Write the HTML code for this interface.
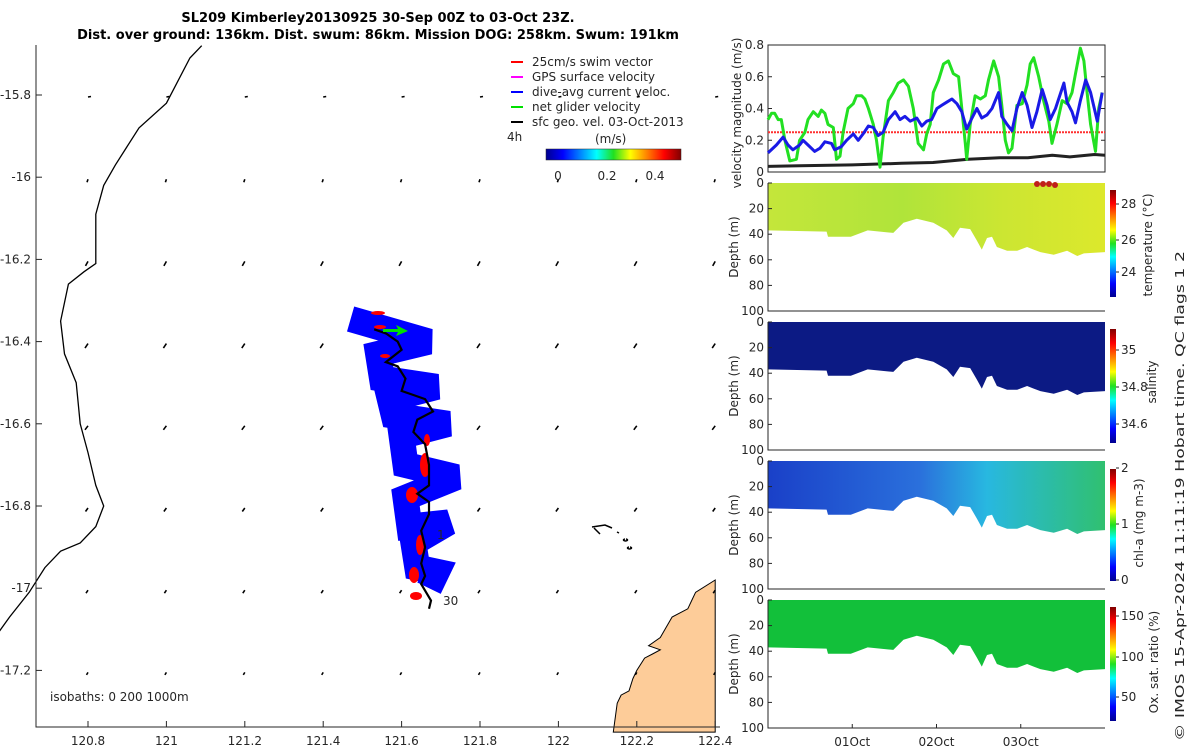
<!DOCTYPE html>
<html><head><meta charset="utf-8">
<style>
body{margin:0;background:#fff;}
svg{display:block;font-family:"DejaVu Sans","Liberation Sans",sans-serif;}
.t{font-size:12px;fill:#262626;}
</style></head>
<body>
<svg id="s" width="1200" height="750" viewBox="0 0 1200 750" xmlns="http://www.w3.org/2000/svg">
<defs>
<linearGradient id="jet" x1="0" y1="1" x2="0" y2="0">
<stop offset="0" stop-color="#00008f"/><stop offset="0.125" stop-color="#0000ff"/><stop offset="0.375" stop-color="#00ffff"/><stop offset="0.5" stop-color="#20e020"/><stop offset="0.625" stop-color="#ffff00"/><stop offset="0.875" stop-color="#ff0000"/><stop offset="1" stop-color="#800000"/>
</linearGradient>
<linearGradient id="jeth" x1="0" y1="0" x2="1" y2="0">
<stop offset="0" stop-color="#00008f"/><stop offset="0.125" stop-color="#0000ff"/><stop offset="0.375" stop-color="#00ffff"/><stop offset="0.5" stop-color="#20e020"/><stop offset="0.625" stop-color="#ffff00"/><stop offset="0.875" stop-color="#ff0000"/><stop offset="1" stop-color="#800000"/>
</linearGradient>
<linearGradient id="gT" x1="0" x2="1"><stop offset="0" stop-color="#c4e63a"/><stop offset="0.4" stop-color="#b0e43a"/><stop offset="0.7" stop-color="#cce632"/><stop offset="1" stop-color="#dce82c"/></linearGradient>
<linearGradient id="gC" x1="0" x2="1"><stop offset="0" stop-color="#1a40c8"/><stop offset="0.45" stop-color="#2a70dc"/><stop offset="0.65" stop-color="#28b8e0"/><stop offset="1" stop-color="#30c070"/></linearGradient>
</defs>

<g font-weight="bold" font-size="13" fill="#000" text-anchor="middle">
<text x="378" y="22">SL209 Kimberley20130925 30-Sep 00Z to 03-Oct 23Z.</text>
<text x="378" y="39">Dist. over ground: 136km. Dist. swum: 86km. Mission DOG: 258km. Swum: 191km</text>
</g>

<g id="map"></g>
<g id="right"></g>

<text class="t" font-size="14" textLength="490" lengthAdjust="spacingAndGlyphs" transform="translate(1184,496) rotate(-90)" text-anchor="middle">© IMOS 15-Apr-2024 11:11:19 Hobart time. QC flags 1  2</text>
</svg>
<script>
const NS="http://www.w3.org/2000/svg";
function mk(p,tag,at){const e=document.createElementNS(NS,tag);for(const k in at)e.setAttribute(k,at[k]);p.appendChild(e);return e;}
function tx(p,x,y,s,at){const e=mk(p,'text',Object.assign({x:x,y:y,class:'t'},at||{}));e.textContent=s;return e;}

// ---------- data ----------
const lonTicks=[120.8,121,121.2,121.4,121.6,121.8,122,122.2,122.4];
const latTicks=[-15.8,-16,-16.2,-16.4,-16.6,-16.8,-17,-17.2];
const velTicks=[0,0.2,0.4,0.6,0.8];
const depthTicks=[0,20,40,60,80,100];
const dateTicks=[24,48,72];
const dateLabels=['01Oct','02Oct','03Oct'];
const greenT=[0,1,1.9,2.9,3.8,4.8,6.2,8.1,9,10.5,11.4,12.9,14.3,15.2,16.2,17.1,18.6,19.5,20.5,21.4,22.8,24.3,25.2,26.7,27.6,28.6,30,30.9,31.9,32.8,34.3,35.7,37.1,38.6,40,41.4,42.8,44.3,45.2,46.2,47.1,48.6,50,51.4,52.8,54.3,55.2,56.2,56.6,57.6,59,60.5,61.9,62.8,64.3,65.7,66.6,67.6,68.5,69.5,70.9,72.4,73.8,74.7,75.7,77.1,78.5,80,80.9,82.3,83.8,85.2,86.6,87.6,89,90,90.9,91.9,93.3,94.2,95.2];
const greenV=[0.33,0.37,0.37,0.33,0.33,0.2,0.07,0.08,0.2,0.25,0.33,0.38,0.35,0.39,0.37,0.3,0.28,0.08,0.1,0.25,0.4,0.43,0.48,0.48,0.46,0.4,0.3,0.2,0.03,0.22,0.45,0.5,0.56,0.58,0.54,0.4,0.18,0.14,0.24,0.3,0.5,0.58,0.68,0.7,0.62,0.6,0.4,0.18,0.08,0.3,0.48,0.46,0.48,0.58,0.7,0.6,0.42,0.2,0.12,0.15,0.42,0.43,0.55,0.68,0.72,0.6,0.45,0.32,0.18,0.3,0.45,0.43,0.5,0.62,0.78,0.7,0.5,0.3,0.13,0.4,0.5];
const blueT=[0,2.4,4.3,5.7,7.1,9,10,11.4,13.3,14.8,16.2,18.1,19,20.9,22.4,24.3,25.7,27.1,28.6,30,31.4,32.8,34.3,36.2,37.6,39,40.5,42.4,43.8,45.2,46.6,48.1,49.5,50.9,52.4,53.8,55.2,56.6,58.1,59.5,60.9,62.4,63.8,65.7,66.6,68.1,69.5,70.9,72.4,73.8,75.2,76.6,78.1,79.5,80.4,81.9,84.3,85.2,86.6,87.6,89,90.5,91.9,93.8,95.2];
const blueV=[0.12,0.17,0.22,0.17,0.14,0.17,0.2,0.17,0.13,0.15,0.19,0.18,0.14,0.16,0.2,0.24,0.2,0.24,0.29,0.28,0.23,0.25,0.33,0.38,0.33,0.35,0.32,0.34,0.29,0.32,0.33,0.4,0.42,0.44,0.46,0.43,0.38,0.27,0.34,0.4,0.34,0.36,0.4,0.5,0.35,0.3,0.26,0.4,0.5,0.42,0.28,0.38,0.52,0.42,0.33,0.4,0.56,0.44,0.38,0.31,0.45,0.58,0.5,0.32,0.5];
const blackT=[0,9,24,38,47,57,66,74,81,86,93,96];
const blackV=[0.035,0.04,0.045,0.055,0.06,0.08,0.09,0.09,0.105,0.095,0.11,0.105];
const swimV=0.25;
const bottomT=[0,16.7,17.1,23.6,28.4,35.7,38.6,42.4,47.1,50.9,52.8,54.7,57.6,59.5,60.9,62.4,63.8,65.2,68.1,71,73.8,75.7,77.6,81.4,85.2,88.1,90,96];
const bottomD=[37,38,42,42,37,39,31,28,31,37,43,35,36,45,52,43,42,50,53,53,50,52,54,56,53,57,55,54];
const coastLon=[121.09,121.06,121.0,120.93,120.87,120.84,120.82,120.82,120.79,120.75,120.73,120.74,120.77,120.78,120.8,120.82,120.84,120.82,120.78,120.73,120.69,120.65,120.6,120.57];
const coastLat=[-15.68,-15.71,-15.82,-15.88,-15.97,-16.02,-16.09,-16.21,-16.23,-16.26,-16.35,-16.43,-16.5,-16.6,-16.67,-16.75,-16.8,-16.85,-16.89,-16.91,-16.95,-17.01,-17.07,-17.11];
const landLon=[122.4,122.35,122.34,122.33,122.29,122.26,122.23,122.26,122.24,122.22,122.2,122.19,122.18,122.16,122.15,122.14,122.14,122.4];
const landLat=[-16.98,-17.01,-17.03,-17.05,-17.07,-17.12,-17.14,-17.15,-17.16,-17.17,-17.2,-17.22,-17.25,-17.26,-17.28,-17.35,-17.35,-17.35];
const bandLon=[121.47,121.67,121.54,121.55,121.69,121.57,121.58,121.72,121.6,121.61,121.74,121.61,121.62,121.72,121.63,121.64,121.69,121.67];
const bandLat=[-16.345,-16.4,-16.43,-16.49,-16.51,-16.54,-16.58,-16.6,-16.63,-16.7,-16.73,-16.78,-16.85,-16.84,-16.89,-16.95,-16.96,-17.0];
const trackLon=[121.53,121.56,121.59,121.6,121.56,121.59,121.61,121.6,121.63,121.66,121.68,121.64,121.63,121.66,121.67,121.67,121.64,121.67,121.67,121.65,121.66,121.65,121.66,121.65,121.675,121.67];
const trackLat=[-16.37,-16.38,-16.4,-16.42,-16.45,-16.46,-16.49,-16.52,-16.53,-16.54,-16.57,-16.59,-16.62,-16.65,-16.7,-16.75,-16.77,-16.79,-16.82,-16.86,-16.9,-16.94,-16.97,-16.99,-17.03,-17.05];
const arrowU=[0.6,-0.2,-0.5,-0.6,-0.6,-0.5,-0.4,-0.3];
const arrowV=[0.1,-0.6,-0.9,-0.9,-0.8,-0.7,-0.6,-0.5];

// ---------- map ----------
const M=document.getElementById('map');
const mx=l=>88+(l-120.8)/0.2*78.4;
const my=l=>95+(-15.8-l)/0.2*82.2;
function ptsLL(lo,la){return lo.map((v,i)=>mx(v).toFixed(1)+','+my(la[i]).toFixed(1)).join(' ');}
const land=mk(M,'polygon',{points:ptsLL(landLon,landLat),fill:'#fdcc99',stroke:'#000','stroke-width':1});

const coast=mk(M,'polyline',{points:ptsLL(coastLon,coastLat),fill:'none',stroke:'#000','stroke-width':1.3});

const isl=mk(M,'path',{d:'M592 527 L605 525 L612 528 M594 528 L600 534 M617 532 l2 1 M625 539 a2 1 0 1 0 1 0 M629 547 a2 1 0 1 0 1 0',fill:'none',stroke:'#000','stroke-width':1.5});

latTicks.forEach((la,j)=>lonTicks.forEach((lo,i)=>{
 const x=mx(lo),y=my(la)+2,u=arrowU[j],v=arrowV[j];
 const a=mk(M,'line',{x1:x,y1:y,x2:x+u*5,y2:y-v*5,stroke:'#000','stroke-width':1.6});
 
}));
const band=mk(M,'polyline',{points:ptsLL(bandLon,bandLat),fill:'none',stroke:'#0000ff','stroke-width':26,'stroke-linejoin':'miter','stroke-miterlimit':2.5});

const reds=[[378,313,7,2],[380,327,6,2],[385,356,5,2],[425,465,5,12],[427,440,3,6],[412,495,6,8],[420,545,4,10],[414,575,5,8],[416,596,6,4]];
reds.forEach(r=>{const e=mk(M,'ellipse',{cx:r[0],cy:r[1],rx:r[2],ry:r[3],fill:'#ff0000'});
});
const trk=mk(M,'polyline',{points:ptsLL(trackLon,trackLat),fill:'none',stroke:'#000','stroke-width':2.2});

const ga=mk(M,'path',{d:'M383 329 L398 329 L396 325 L408 331 L396 336 L398 332 L383 332Z',fill:'#00e000'});

tx(M,437,539,'1',{'font-size':13});
tx(M,443,605,'30',{'font-size':13});
const ax=mk(M,'path',{d:'M36 45 L36 727 L720 727',fill:'none',stroke:'#262626','stroke-width':1});

latTicks.forEach(la=>{const y=my(la);mk(M,'line',{x1:36,y1:y,x2:42,y2:y,stroke:'#262626'});
 const t=tx(M,31,y+4,String(la),{'text-anchor':'end'});});
lonTicks.forEach(lo=>{const x=mx(lo);mk(M,'line',{x1:x,y1:727,x2:x,y2:721,stroke:'#262626'});
 const t=tx(M,x,745,String(lo),{'text-anchor':'middle'});});
tx(M,50,701,'isobaths: 0   200   1000m',{'xml:space':'preserve'});
const L=mk(M,'g',{});
const legC=['#ff0000','#ff00ff','#0000ff','#00e000','#000'];
const legT=['25cm/s swim vector','GPS surface velocity','dive-avg current veloc.','net glider velocity','sfc geo. vel. 03-Oct-2013'];
legT.forEach((s,i)=>{const y=66+i*15;
 const ln=mk(L,'line',{x1:511,y1:y-4,x2:523,y2:y-4,stroke:legC[i],'stroke-width':2});
 
 const t=tx(L,532,y,s);});
tx(L,507,141,'4h');
tx(L,595,143,'(m/s)',{'font-size':14});
const cb=mk(L,'rect',{x:546,y:149,width:135,height:11,fill:'url(#jeth)',stroke:'#262626','stroke-width':0.5});

[['0',558],['0.2',607],['0.4',655]].forEach(a=>tx(L,a[1],180,a[0],{'text-anchor':'middle'}));

// ---------- right panels ----------
const R=document.getElementById('right');
const X0=768,X1=1105;
const tx_=t=>X0+t/96*(X1-X0);
const vy=v=>172-v/0.8*127;
const vb=mk(R,'rect',{x:X0,y:45,width:X1-X0,height:127,fill:'none',stroke:'#262626'});

velTicks.forEach(v=>{const y=vy(v);mk(R,'line',{x1:X0,y1:y,x2:X0+4,y2:y,stroke:'#262626'});mk(R,'line',{x1:X1,y1:y,x2:X1-4,y2:y,stroke:'#262626'});
 const t=tx(R,764,y+4,String(v),{'text-anchor':'end'});});
const vt=tx(R,0,0,'velocity magnitude (m/s)',{transform:'translate(741,113) rotate(-90)','text-anchor':'middle','font-size':11});

function line(T,V,col,w,nm,dash){const e=mk(R,'polyline',{points:T.map((t,i)=>tx_(t).toFixed(1)+','+vy(V[i]).toFixed(1)).join(' '),fill:'none',stroke:col,'stroke-width':w,'stroke-linejoin':'round'});
 if(dash)e.setAttribute('stroke-dasharray',dash);}
line([0,96],[swimV,swimV],'#ff3030',2,'swim-speed-line','2 1');
line(blackT,blackV,'#222',3,'sfc-geo-speed-line');
line(greenT,greenV,'#22e022',3,'net-glider-speed-line');
line(blueT,blueV,'#1a1ae6',3,'dive-avg-current-speed-line');
const panels=[
 {top:183,fill:'url(#gT)',name:'temperature',lab:'temperature (°C)',cb:[190,297],ticks:[['28',204],['26',240],['24',272]],lx:1152},
 {top:322,fill:'#0c1a84',name:'salinity',lab:'salinity',cb:[329,443],ticks:[['35',350],['34.8',387],['34.6',424]],lx:1156},
 {top:461,fill:'url(#gC)',name:'chl-a',lab:'chl-a (mg m-3)',cb:[469,581],ticks:[['2',468],['1',524],['0',580]],lx:1143},
 {top:600,fill:'#12c03a',name:'oxygen',lab:'Ox. sat. ratio (%)',cb:[607,721],ticks:[['150',616],['100',657],['50',697]],lx:1158}];
panels.forEach((p,k)=>{
 const bot=p.top+128;const dy=d=>p.top+d/100*128;
 const G=mk(R,'g',{});
 let d='M'+tx_(0)+','+dy(0)+' L'+tx_(96)+','+dy(0);
 for(let i=bottomT.length-1;i>=0;i--)d+=' L'+tx_(bottomT[i]).toFixed(1)+','+dy(bottomD[i]).toFixed(1);
 const f=mk(G,'path',{d:d+'Z',fill:p.fill});
 mk(G,'path',{d:'M'+X0+' '+p.top+' L'+X0+' '+bot+' L'+X1+' '+bot,fill:'none',stroke:'#262626'});
 depthTicks.forEach(v=>{const y=dy(v);mk(G,'line',{x1:X0,y1:y,x2:X0+4,y2:y,stroke:'#262626'});
  const t=tx(G,764,y+4,String(v),{'text-anchor':'end'});});
 const dt=tx(G,0,0,'Depth (m)',{transform:'translate(738,'+(p.top+64)+') rotate(-90)','text-anchor':'middle'});
 
 const c=mk(G,'rect',{x:1110,y:p.cb[0],width:6,height:p.cb[1]-p.cb[0],fill:'url(#jet)'});
 
 p.ticks.forEach(a=>{mk(G,'line',{x1:1116,y1:a[1],x2:1119,y2:a[1],stroke:'#262626'});tx(G,1121,a[1]+4,a[0]);});
 const ct=tx(G,0,0,p.lab,{transform:'translate('+p.lx+','+(p.top+(k==1?60:62))+') rotate(-90)','text-anchor':'middle','font-size':13});
 
 if(k==3){dateTicks.forEach((t,i)=>{const x=tx_(t);mk(G,'line',{x1:x,y1:bot,x2:x,y2:bot-4,stroke:'#262626'});
  const l=tx(G,x,746,dateLabels[i],{'text-anchor':'middle','font-size':11});});}
});
[[1037,184],[1043,184],[1049,184],[1055,185]].forEach(q=>{const e=mk(R,'circle',{cx:q[0],cy:q[1],r:3,fill:'#c0201a'});});
</script>
</body></html>
